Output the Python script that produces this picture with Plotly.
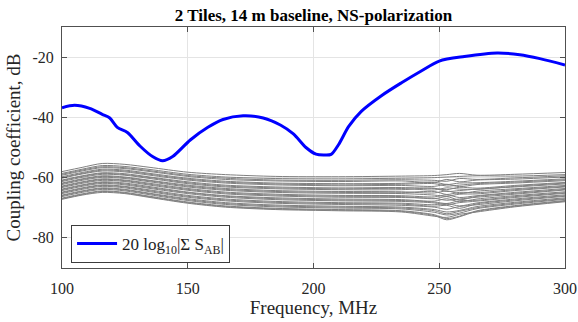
import plotly.graph_objects as go

# Blue summed coupling curve
x_blue = [100, 105, 111, 116, 119, 122, 126, 131, 136, 140, 144, 151, 158, 164, 172, 180,
          187, 192, 197, 201, 204, 207, 210, 214, 219, 227, 235, 243, 250, 260, 273, 282, 290, 300]
y_blue = [-36.8, -36.0, -37.0, -39.0, -40.2, -43.3, -45.0, -49.5, -53.0, -54.4, -53.0, -47.5,
          -43.3, -40.7, -39.5, -40.2, -42.6, -45.5, -50.0, -52.2, -52.5, -52.3, -49.0, -43.0,
          -38.0, -32.8, -28.5, -24.5, -21.3, -19.8, -18.6, -19.2, -20.5, -22.6]

# Individual element-pair couplings (gray)
x_gray = [100, 108, 116, 125, 135, 150, 165, 185, 210, 235, 248, 253, 258, 265, 280, 300]
g01 = [-58.0, -56.6, -55.3, -55.6, -56.6, -58.2, -59.0, -59.6, -59.7, -59.5, -59.3, -59.0, -58.6, -59.2, -58.9, -58.3]
g02 = [-58.6, -57.2, -56.0, -56.3, -57.3, -58.9, -59.8, -60.3, -60.4, -60.2, -60.0, -59.8, -59.6, -59.4, -59.5, -59.0]
h01 = [-58.9, -57.5, -56.4, -56.7, -57.7, -59.3, -60.2, -60.8, -60.9, -60.7, -60.9, -61.2, -60.3, -60.6, -60.1, -59.4]
g03 = [-59.2, -57.8, -56.7, -57.0, -58.0, -59.6, -60.6, -61.1, -61.3, -61.1, -61.6, -60.6, -61.4, -60.8, -60.5, -59.8]
g04 = [-59.7, -58.3, -57.2, -57.5, -58.6, -60.2, -61.2, -61.8, -62.0, -61.9, -61.5, -62.3, -61.8, -61.7, -61.2, -60.4]
h02 = [-60.0, -58.6, -57.5, -57.8, -58.9, -60.5, -61.5, -62.1, -62.4, -62.2, -62.0, -62.8, -62.5, -62.0, -61.5, -60.7]
g05 = [-60.2, -58.8, -57.8, -58.1, -59.2, -60.8, -61.8, -62.4, -62.7, -62.6, -62.9, -62.2, -63.0, -62.3, -61.8, -61.0]
g06 = [-60.8, -59.4, -58.4, -58.7, -59.8, -61.4, -62.5, -63.1, -63.4, -63.3, -63.6, -64.0, -63.2, -63.5, -62.6, -61.6]
h03 = [-61.0, -59.6, -58.6, -59.0, -60.0, -61.7, -62.8, -63.4, -63.7, -63.6, -64.1, -63.4, -63.8, -63.9, -62.9, -61.8]
g07 = [-61.3, -59.9, -58.9, -59.2, -60.3, -62.0, -63.1, -63.7, -64.0, -64.0, -63.5, -64.6, -64.3, -63.8, -63.1, -62.1]
g08 = [-61.8, -60.4, -59.4, -59.8, -60.9, -62.5, -63.6, -64.3, -64.6, -64.7, -65.1, -64.4, -65.3, -64.5, -63.7, -62.6]
h04 = [-62.0, -60.6, -59.6, -60.0, -61.1, -62.8, -63.9, -64.6, -64.9, -65.0, -64.6, -65.6, -64.9, -65.0, -64.0, -62.9]
g09 = [-62.3, -60.9, -59.9, -60.3, -61.4, -63.1, -64.2, -64.9, -65.2, -65.3, -65.8, -66.2, -65.5, -65.4, -64.3, -63.1]
g10 = [-62.8, -61.4, -60.4, -60.8, -61.9, -63.6, -64.8, -65.5, -65.9, -66.0, -66.4, -65.7, -66.6, -66.0, -64.9, -63.6]
h05 = [-63.0, -61.6, -60.6, -61.0, -62.2, -63.9, -65.1, -65.8, -66.2, -66.3, -67.0, -66.3, -67.4, -66.2, -65.2, -63.9]
g11 = [-63.3, -61.9, -60.9, -61.3, -62.5, -64.2, -65.4, -66.1, -66.5, -66.6, -66.9, -67.5, -67.1, -66.5, -65.5, -64.1]
g12 = [-63.8, -62.4, -61.4, -61.8, -63.0, -64.8, -66.0, -66.7, -67.1, -67.3, -67.8, -67.0, -68.0, -67.1, -66.0, -64.7]
h06 = [-64.0, -62.6, -61.6, -62.1, -63.3, -65.0, -66.2, -67.0, -67.4, -67.6, -68.1, -68.6, -67.7, -67.5, -66.3, -65.0]
g13 = [-64.3, -62.9, -61.9, -62.4, -63.6, -65.3, -66.5, -67.3, -67.7, -67.9, -68.4, -69.0, -68.3, -67.8, -66.6, -65.2]
g14 = [-64.8, -63.4, -62.4, -62.9, -64.1, -65.9, -67.1, -67.9, -68.3, -68.5, -69.0, -68.6, -69.4, -68.4, -67.1, -65.7]
h07 = [-65.0, -63.6, -62.6, -63.1, -64.4, -66.2, -67.4, -68.2, -68.6, -68.8, -69.5, -69.2, -70.2, -68.7, -67.4, -66.0]
g15 = [-65.3, -63.9, -62.9, -63.4, -64.7, -66.5, -67.7, -68.5, -68.9, -69.2, -69.8, -70.5, -69.6, -69.0, -67.7, -66.2]
g16 = [-65.8, -64.4, -63.4, -63.9, -65.2, -67.0, -68.3, -69.1, -69.5, -69.8, -70.6, -71.4, -70.9, -69.6, -68.2, -66.7]
h08 = [-66.0, -64.6, -63.6, -64.1, -65.4, -67.3, -68.6, -69.4, -69.8, -70.1, -71.0, -72.0, -71.2, -70.0, -68.5, -67.0]
g17 = [-66.3, -64.9, -63.9, -64.4, -65.7, -67.6, -68.9, -69.7, -70.1, -70.4, -71.5, -72.4, -71.8, -70.3, -68.8, -67.2]
g18 = [-66.8, -65.4, -64.4, -64.9, -66.2, -68.1, -69.4, -70.2, -70.6, -71.0, -72.3, -73.6, -72.8, -71.0, -69.3, -67.6]
h09 = [-67.0, -65.6, -64.6, -65.1, -66.4, -68.3, -69.6, -70.4, -70.8, -71.2, -72.6, -74.0, -73.0, -71.2, -69.5, -67.8]
g19 = [-67.2, -65.8, -64.9, -65.3, -66.6, -68.5, -69.8, -70.6, -71.0, -71.4, -72.8, -73.2, -72.2, -71.4, -69.7, -68.0]
gray_series = [g01, g02, h01, g03, g04, h02, g05, g06, h03, g07, g08, h04, g09, g10, h05,
               g11, g12, h06, g13, g14, h07, g15, g16, h08, g17, g18, h09, g19]

x_ticks = [100, 150, 200, 250, 300]
x_ticktext = ["100", "150", "200", "250", "300"]
y_ticks = [-80, -60, -40, -20]
y_ticktext = ["-80", "-60", "-40", "-20"]

FONT = "Liberation Serif"

fig = go.Figure()
for g in gray_series:
    fig.add_trace(go.Scatter(x=x_gray, y=g, mode="lines",
                             line=dict(color="rgb(128,128,128)", width=1, shape="spline", smoothing=0.8),
                             showlegend=False, hoverinfo="skip"))
fig.add_trace(go.Scatter(x=x_blue, y=y_blue, mode="lines",
                         line=dict(color="rgb(0,0,255)", width=3, shape="spline", smoothing=0.8),
                         name="20 log<sub>10</sub>|Σ S<sub>AB</sub>|"))

axis_common = dict(showline=True, linecolor="rgb(80,80,80)", linewidth=1, mirror="ticks",
                   ticks="inside", ticklen=5, tickcolor="rgb(80,80,80)",
                   showgrid=True, gridcolor="rgb(228,228,228)", gridwidth=1, automargin=False,
                   zeroline=False, tickfont=dict(family=FONT, size=16, color="rgb(38,38,38)"))

fig.update_layout(
    width=578, height=322,
    margin=dict(l=62, r=13, t=27, b=54),
    paper_bgcolor="white", plot_bgcolor="white",
    title=dict(text="<b>2 Tiles, 14 m baseline, NS-polarization</b>",
               font=dict(family=FONT, size=17, color="black"),
               x=0.5, xanchor="center", xref="paper", y=1 - 15 / 322, yanchor="middle"),
    xaxis=dict(range=[100, 300], tickvals=x_ticks, ticktext=x_ticktext, ticklabelstandoff=6,
               title=dict(text="Frequency, MHz", font=dict(family=FONT, size=19, color="rgb(38,38,38)"),
                          standoff=2),
               **axis_common),
    yaxis=dict(range=[-90, -10], tickvals=y_ticks, ticktext=y_ticktext, ticklabelstandoff=4,
               title=dict(text="Coupling coefficient, dB", font=dict(family=FONT, size=19, color="rgb(38,38,38)"),
                          standoff=6),
               **axis_common),
    legend=dict(x=0.018, y=0.021, xanchor="left", yanchor="bottom",
                bgcolor="white", bordercolor="rgb(60,60,60)", borderwidth=1,
                font=dict(family=FONT, size=17, color="rgb(30,30,30)"),
                itemwidth=40, tracegroupgap=0),
    showlegend=True,
)

fig.write_html("out.html")
